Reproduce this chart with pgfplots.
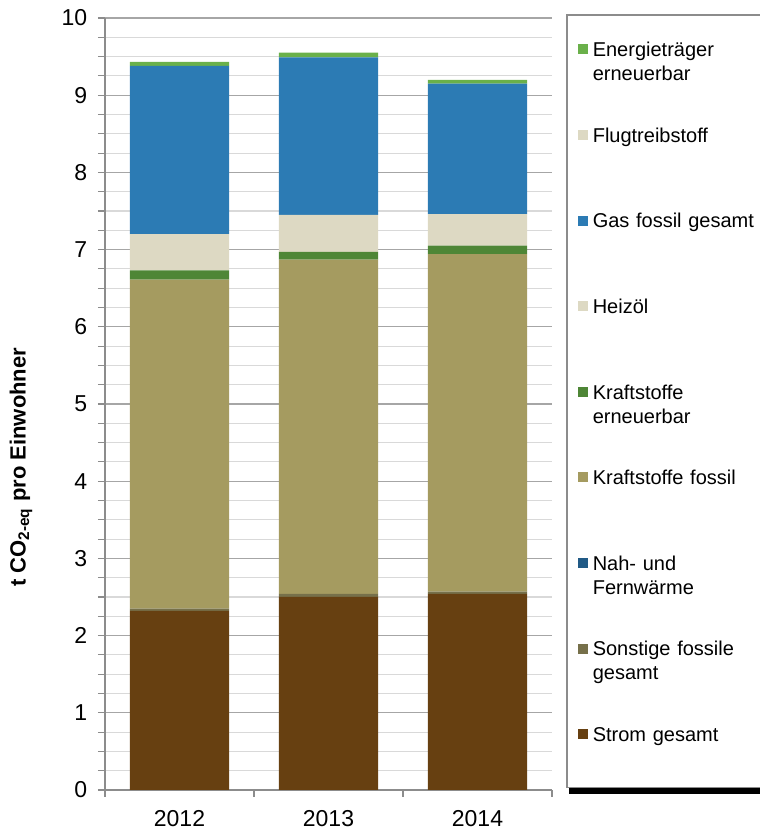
\documentclass[border=0pt]{standalone}
\usepackage{fontspec}
\setmainfont{Liberation Sans}
\usepackage{pgfplots}
\pgfplotsset{compat=1.18}
\usepackage{pgfplotstable}

\definecolor{cStrom}{RGB}{103,64,17}
\definecolor{cSonst}{RGB}{118,112,74}
\definecolor{cNah}{RGB}{33,90,134}
\definecolor{cKfos}{RGB}{165,155,96}
\definecolor{cKern}{RGB}{78,134,54}
\definecolor{cHeiz}{RGB}{221,217,195}
\definecolor{cGas}{RGB}{44,123,180}
\definecolor{cFlug}{RGB}{221,217,195}
\definecolor{cEnerg}{RGB}{106,176,74}

% t CO2-eq pro Einwohner, stacked by Energieträger
\pgfplotstableread{
x strom sonst nah  kfos kern heiz gas  flug energ
0 2.32  0.03  0    4.26 0.12 0.47 2.18 0    0.05
1 2.50  0.04  0    4.33 0.10 0.48 2.04 0    0.06
2 2.54  0.03  0    4.37 0.11 0.41 1.69 0    0.05
}\data

\pgfplotsset{
  sq/.style={legend image code/.code={\fill[##1] (0pt,1.85pt) rectangle (7.5pt,9.35pt);}},
}

\begin{document}
\begin{tikzpicture}
\begin{axis}[
  scale only axis, clip=false,
  width=335.25pt, height=579pt,
  ybar stacked, bar width=0.665,
  xmin=-0.5, xmax=2.5, ymin=0, ymax=10,
  xtick={-0.5,0.5,1.5,2.5}, xticklabels={},
  extra x ticks={0,1,2}, extra x tick labels={2012,2013,2014},
  extra x tick style={major tick length=0pt, grid=none},
  ytick={0,1,...,10}, minor y tick num=3,
  ymajorgrids, yminorgrids,
  major grid style={draw=black!35, line width=0.8pt},
  minor grid style={draw=black!15, line width=0.8pt},
  axis x line*=bottom, axis y line*=left,
  axis line style={-, draw=black!45, line width=1pt},
  tick align=outside, major tick length=5.25pt, minor tick length=5.25pt,
  tick style={draw=black!45, line width=0.8pt},
  tick label style={font=\fontsize{17.25}{20}\selectfont},
  /pgf/number format/assume math mode=true,
  yticklabel style={xshift=-4.5pt},
  xticklabel style={yshift=-12pt},
  ylabel={t CO\textsubscript{2-eq} pro Einwohner},
  ylabel style={font=\fontsize{16.5}{20}\selectfont\bfseries,
    at={(axis description cs:-0.188,0.418)}, anchor=center},
  reverse legend,
  legend style={
    at={(1.0313,1.0052)}, anchor=north west,
    draw=black!45, line width=1.2pt, fill=white,
    inner xsep=8.25pt, inner ysep=19.5pt,
    row sep=37.2pt, column sep=3.75pt,
    cells={anchor=base west},
    nodes={text width=140pt, align=left, inner sep=0pt,
      text height=12pt, text depth=15pt, font=\fontsize{15}{18}\selectfont},
  },
]
\addplot[fill=cStrom, draw=none, sq] table[x=x, y=strom]{\data};
\addlegendentry{Strom gesamt}
\addplot[fill=cSonst, draw=none, sq] table[x=x, y=sonst]{\data};
\addlegendentry{Sonstige fossile\\gesamt}
\addplot[fill=cNah, draw=none, sq] table[x=x, y=nah]{\data};
\addlegendentry{Nah- und\\Fernwärme}
\addplot[fill=cKfos, draw=none, sq] table[x=x, y=kfos]{\data};
\addlegendentry{Kraftstoffe fossil}
\addplot[fill=cKern, draw=none, sq] table[x=x, y=kern]{\data};
\addlegendentry{Kraftstoffe\\erneuerbar}
\addplot[fill=cHeiz, draw=none, sq] table[x=x, y=heiz]{\data};
\addlegendentry{Heizöl}
\addplot[fill=cGas, draw=none, sq] table[x=x, y=gas]{\data};
\addlegendentry{Gas fossil gesamt}
\addplot[fill=cFlug, draw=none, sq] table[x=x, y=flug]{\data};
\addlegendentry{Flugtreibstoff}
\addplot[fill=cEnerg, draw=none, sq] table[x=x, y=energ]{\data};
\addlegendentry{Energieträger\\erneuerbar}
% shadow of the legend box
\fill[black] (rel axis cs:1.038,-0.0058) rectangle (rel axis cs:1.6,0.5);
\end{axis}
\pgfresetboundingbox
\path[use as bounding box] (-78.75pt,-31.5pt) rectangle (491.25pt,592.5pt);
\end{tikzpicture}
\end{document}
